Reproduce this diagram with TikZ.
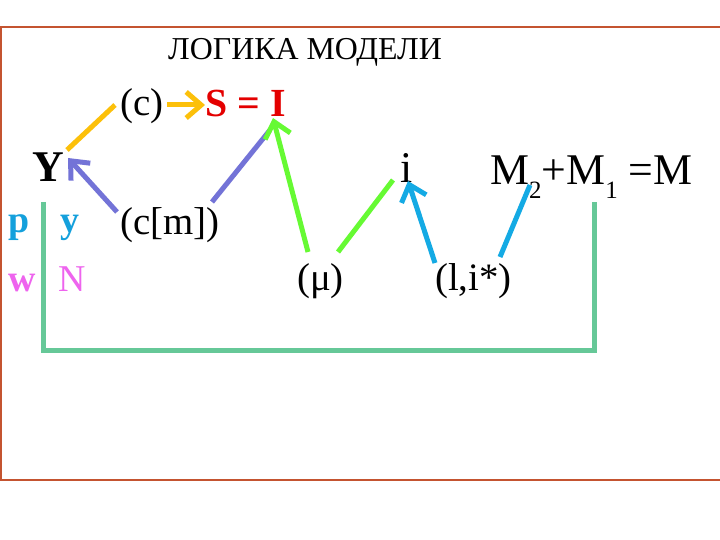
\documentclass[tikz,border=0pt]{standalone}
\usepackage{fontspec}
\setmainfont{Liberation Serif}
\usetikzlibrary{arrows.meta}
\definecolor{framec}{RGB}{196,84,48}
\definecolor{gold}{RGB}{252,192,10}
\definecolor{viol}{RGB}{115,115,215}
\definecolor{lgreen}{RGB}{102,250,51}
\definecolor{cyanc}{RGB}{20,170,228}
\definecolor{teal}{RGB}{102,200,152}
\definecolor{redc}{RGB}{228,0,0}
\definecolor{pcyan}{RGB}{20,160,220}
\definecolor{magc}{RGB}{238,100,238}
\tikzset{
  lbl/.style={inner sep=0pt, anchor=base west, font=\fontsize{39}{41}\selectfont},
  big/.style={inner sep=0pt, anchor=base west, font=\fontsize{44}{46}\selectfont},
  conn/.style={line width=5bp},
  arr/.style={conn, -{Straight Barb[length=15bp,width=26bp]}},
}
\begin{document}
\begin{tikzpicture}[x=1bp,y=-1bp]
\useasboundingbox (0,0) rectangle (720,540);
\clip (0,0) rectangle (720,540);
\fill[white] (0,0) rectangle (720,540);
\draw[framec, line width=1.5bp] (1,27) rectangle (740,480);
% texts
\node[inner sep=0pt, anchor=base, font=\fontsize{32}{34}\selectfont] (title) at (305,60) {ЛОГИКА МОДЕЛИ};
\node[lbl] (c) at (120,116) {(c)};
\node[inner sep=0pt, anchor=base west, font=\fontsize{40}{42}\selectfont\bfseries, text=redc] (SI) at (205,117) {S = I};
\node[inner sep=0pt, anchor=base west, font=\fontsize{44}{46}\selectfont\bfseries] (Y) at (32,182) {Y};
\node[lbl] (cm) at (120,235) {(c[m])};
\node[inner sep=0pt, anchor=base west, font=\fontsize{38}{40}\selectfont\bfseries, text=pcyan] (p) at (8,233) {p};
\node[inner sep=0pt, anchor=base west, font=\fontsize{38}{40}\selectfont\bfseries, text=pcyan] (y) at (60,233) {y};
\node[inner sep=0pt, anchor=base west, font=\fontsize{38}{40}\selectfont\bfseries, text=magc] (w) at (8,291) {w};
\node[inner sep=0pt, anchor=base west, font=\fontsize{38}{40}\selectfont, text=magc] (N) at (58,291) {N};
\node[lbl] (mu) at (297,290) {(μ)};
\node[lbl] (li) at (435,290) {(l,i*)};
\node[big] (i) at (400,183) {i};
\node[big] (M) at (490,185) {M\raisebox{-0.3em}{\fontsize{25}{25}\selectfont 2}+M\raisebox{-0.3em}{\fontsize{25}{25}\selectfont 1} =M};
% anchor points
\coordinate (cL) at (115,105);
\coordinate (YR) at (67,150);
\coordinate (cR) at (167,105);
\coordinate (Sl) at (205,105);
\coordinate (cmL) at (117,212);
\coordinate (Yt) at (68,158);
\coordinate (cmR) at (212,202);
\coordinate (Ib) at (270,130);
\coordinate (muL) at (308,252);
\coordinate (It) at (273,118);
\coordinate (muR) at (338,252);
\coordinate (iL) at (393,180);
\coordinate (liL) at (435,263);
\coordinate (ib) at (408,181);
\coordinate (liR) at (500,257);
\coordinate (Mb) at (530,185);
\coordinate (b1) at (43,202);
\coordinate (b2) at (43,350);
\coordinate (b3) at (594,350);
\coordinate (b4) at (594,202);
% connectors
\draw[conn, gold] (cL) -- (YR);
\draw[arr, gold] (cR) -- (Sl);
\draw[arr, viol] (cmL) -- (Yt);
\draw[conn, viol] (cmR) -- (Ib);
\draw[arr, lgreen] (muL) -- (It);
\draw[conn, lgreen] (muR) -- (iL);
\draw[arr, cyanc] (liL) -- (ib);
\draw[conn, cyanc] (liR) -- (Mb);
\draw[conn, teal] (b1) -- (b2) -- (b3) -- (b4);
\end{tikzpicture}
\end{document}
